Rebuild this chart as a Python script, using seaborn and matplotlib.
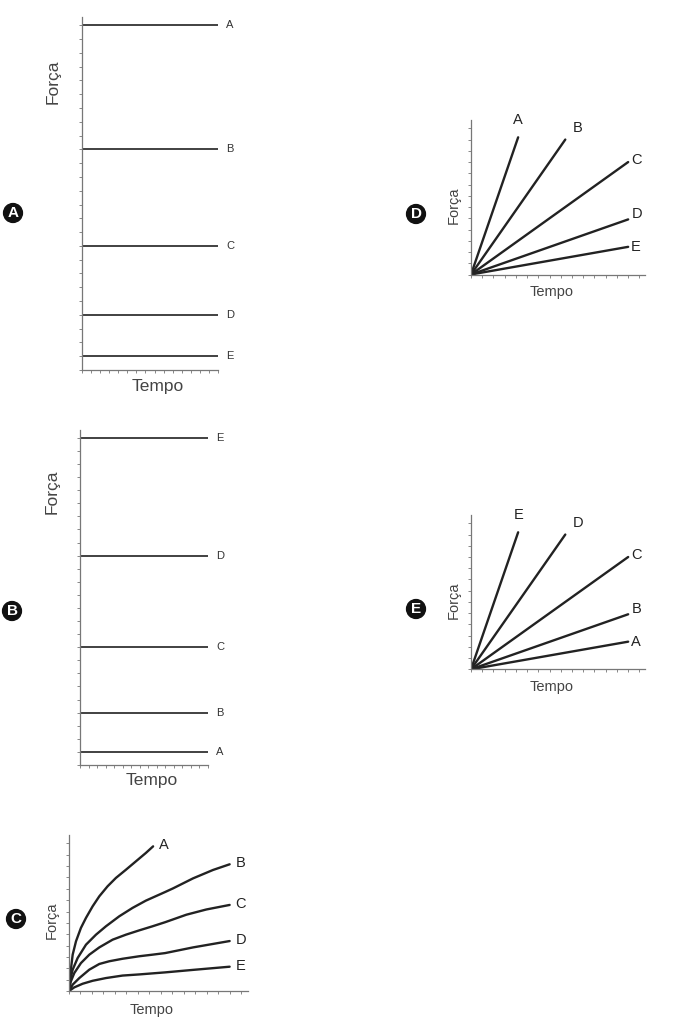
import numpy as np
import pandas as pd
import seaborn as sns
from matplotlib import pyplot as plt

sns.set_style("ticks")
plt.rcParams['font.family'] = ['Liberation Sans', 'DejaVu Sans']

# panels A and B: constant force levels
names = ['A', 'B', 'C', 'D', 'E']
levels_a = [25, 16, 9, 4, 1]
levels_b = [1, 4, 9, 16, 25]
t_span = [0, 15]

# panel C: curves
c_a_x = [0, 0.145, 0.32, 0.61, 1.04, 1.48, 2.06, 2.64, 3.36, 4.09, 4.96, 5.83, 6.7, 7.33]
c_a_y = [0, 0.87, 1.6, 2.19, 2.78, 3.22, 3.73, 4.17, 4.61, 4.98, 5.34, 5.71, 6.08, 6.37]
c_b_x = [0, 0.145, 0.32, 0.75, 1.48, 2.35, 3.22, 4.38, 5.54, 6.7, 8.38, 9.07, 10.81, 12.55, 14.0]
c_b_y = [0, 0.57, 0.94, 1.45, 2.04, 2.48, 2.85, 3.29, 3.66, 3.98, 4.36, 4.52, 4.96, 5.33, 5.58]
c_c_x = [0, 0.145, 0.46, 1.04, 1.77, 2.64, 3.8, 4.96, 6.12, 7.28, 8.38, 10.23, 11.97, 14.0]
c_c_y = [0, 0.4, 0.79, 1.23, 1.6, 1.92, 2.26, 2.48, 2.67, 2.85, 3.03, 3.36, 3.59, 3.79]
c_d_x = [0, 0.32, 0.9, 1.77, 2.64, 3.51, 4.67, 6.12, 7.28, 8.38, 10.81, 14.0]
c_d_y = [0, 0.28, 0.57, 0.94, 1.19, 1.31, 1.42, 1.53, 1.6, 1.67, 1.92, 2.2]
c_e_x = [0, 0.46, 1.19, 2.06, 3.22, 4.67, 6.12, 8.38, 10.81, 14.0]
c_e_y = [0, 0.16, 0.32, 0.45, 0.57, 0.68, 0.73, 0.82, 0.93, 1.07]

# panels D and E: straight lines from the origin, end points
end_x = [4.2, 8.4, 14.0, 14.0, 14.0]
end_y = [6.1, 6.0, 5.0, 2.45, 1.23]
names_d = ['A', 'B', 'C', 'D', 'E']
names_e = ['E', 'D', 'C', 'B', 'A']

W, H = 682, 1024
fig = plt.figure(figsize=(W / 100, H / 100), dpi=100)


def rect(left, top, right, bottom):
    return [left / W, 1 - bottom / H, (right - left) / W, (bottom - top) / H]


def style(ax, xmax, ymax, xstep, ystep):
    ax.set_xlim(0, xmax)
    ax.set_ylim(0, ymax)
    ax.set_xticks(np.arange(0, xmax + 0.01, xstep))
    ax.set_yticks(np.arange(0, ymax + 0.01, ystep))
    ax.set_xticklabels([])
    ax.set_yticklabels([])
    ax.set_xlabel('')
    ax.set_ylabel('')
    for s in ['top', 'right']:
        ax.spines[s].set_visible(False)
    for s in ['left', 'bottom']:
        ax.spines[s].set_color('#777777')
        ax.spines[s].set_linewidth(0.9)
    ax.tick_params(direction='out', length=2.5, width=0.7, colors='#888888')
    ax.patch.set_alpha(0)


line_col = '#333333'

# ---- panel A
ax = fig.add_axes(rect(82, 17, 218, 370))
for n, v in zip(names, levels_a):
    sns.lineplot(x=t_span, y=[v, v], ax=ax, color=line_col, linewidth=1.3)
    ax.annotate(n, (15, v), xytext=(8, 0), textcoords='offset pixels',
                ha='left', va='center', fontsize=8, color='#333333', annotation_clip=False)
style(ax, 15, 25.6, 1, 1)

# ---- panel B
ax = fig.add_axes(rect(80, 430, 208, 765))
for n, v in zip(names, levels_b):
    sns.lineplot(x=t_span, y=[v, v], ax=ax, color=line_col, linewidth=1.3)
    ax.annotate(n, (15, v), xytext=(8, 0), textcoords='offset pixels',
                ha='left', va='center', fontsize=8, color='#333333', annotation_clip=False)
style(ax, 15, 25.6, 1, 1)

# ---- panel C
ax = fig.add_axes(rect(69, 835, 248, 991))
curves = [(c_a_x, c_a_y), (c_b_x, c_b_y), (c_c_x, c_c_y), (c_d_x, c_d_y), (c_e_x, c_e_y)]
for n, (cx, cy) in zip(names, curves):
    sns.lineplot(x=cx, y=cy, ax=ax, color='#222222', linewidth=1.7)
    ax.annotate(n, (cx[-1], cy[-1]), xytext=(6, 1), textcoords='offset pixels',
                ha='left', va='center', fontsize=10.5, color='#222222', annotation_clip=False)
style(ax, 15.6, 6.87, 1, 0.5)

# ---- panels D and E
label_off = [(0, 10, 'center'), (7, 12, 'left'), (3, 2, 'left'), (4, 5, 'left'), (3, 0, 'left')]
for top, bottom, labs in [(120, 274.5, names_d), (515, 669.3, names_e)]:
    ax = fig.add_axes(rect(471, top, 645, bottom))
    for n, ex, ey, (dx, dy, ha) in zip(labs, end_x, end_y, label_off):
        sns.lineplot(x=[0, ex], y=[0, ey], ax=ax, color='#222222', linewidth=1.7)
        ax.annotate(n, (ex, ey), xytext=(dx, dy), textcoords='offset pixels',
                    ha=ha, va='bottom' if ha == 'center' else 'center',
                    fontsize=10.5, color='#222222', annotation_clip=False)
    style(ax, 15.5, 6.87, 1, 0.5)

# ---- axis titles
axis_text = [
    (53, 82, 'Força', 90, 12.5), (158, 387, 'Tempo', 0, 12.5),
    (52, 492, 'Força', 90, 12.5), (152, 780, 'Tempo', 0, 12.5),
    (52, 920, 'Força', 90, 10.5), (152, 1010, 'Tempo', 0, 10.5),
    (454, 205, 'Força', 90, 10.5), (552, 292, 'Tempo', 0, 10.5),
    (454, 600, 'Força', 90, 10.5), (552, 687, 'Tempo', 0, 10.5),
]
for x, y, s, rot, fs in axis_text:
    fig.text(x / W, 1 - y / H, s, rotation=rot, ha='center', va='center',
             fontsize=fs, color='#444444')

# ---- circled panel letters
badges = [(13, 213, 'A'), (12, 611, 'B'), (16, 919, 'C'), (416, 214, 'D'), (416, 609, 'E')]
for x, y, s in badges:
    fig.text(x / W, 1 - y / H, s, ha='center', va='center', fontsize=11,
             fontweight='bold', color='white',
             bbox=dict(boxstyle='circle,pad=0.16', fc='#111111', ec='#111111'))

fig.savefig('out.png', dpi=100)
